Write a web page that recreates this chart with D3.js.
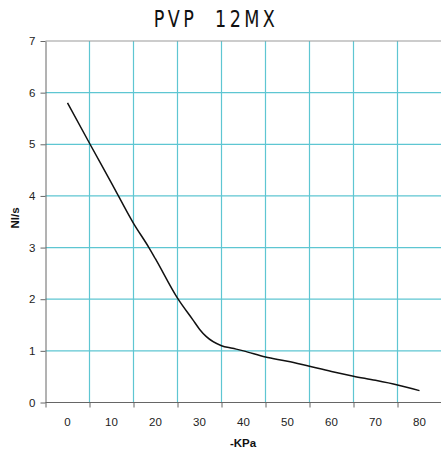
<!DOCTYPE html>
<html><head><meta charset="utf-8">
<script src="https://cdn.jsdelivr.net/npm/d3@7"></script>
<style>body{margin:0;background:#fff}svg{display:block}</style>
</head><body>
<script>
const title = "PVP  12MX";
const kpa = [0, 5, 10, 15, 18.5, 20, 25, 28.5, 30, 31.5, 35, 37.5, 40, 45, 50, 55, 60, 65, 70, 75, 80];
const flow = [5.8, 5.02, 4.25, 3.47, 3.0, 2.78, 2.02, 1.6, 1.42, 1.28, 1.1, 1.05, 1.0, 0.88, 0.8, 0.7, 0.6, 0.51, 0.43, 0.34, 0.23];
const xTickLabels = [0, 10, 20, 30, 40, 50, 60, 70, 80];
const xGrid = [5, 15, 25, 35, 45, 55, 65, 75];
const yTicks = [0, 1, 2, 3, 4, 5, 6, 7];

const W = 441, H = 452;
const svg = d3.select("body").append("svg").attr("width", W).attr("height", H);
const x = d3.scaleLinear().domain([-5, 85]).range([45.5, 441.5]);
const y = d3.scaleLinear().domain([0, 7]).range([402.5, 41]);
const grid = "#5ec6d2", axisC = "#666";

// gridlines
svg.append("g").selectAll("line").data(yTicks.filter(d => d > 0 && d < 7)).join("line")
  .attr("x1", x(-5)).attr("x2", W).attr("y1", d => y(d)).attr("y2", d => y(d))
  .attr("stroke", grid).attr("stroke-width", 1.2);
svg.append("g").selectAll("line").data(xGrid).join("line")
  .attr("x1", d => x(d)).attr("x2", d => x(d)).attr("y1", y(7)).attr("y2", y(0))
  .attr("stroke", grid).attr("stroke-width", 1.2);
// top border
svg.append("line").attr("x1", x(-5)).attr("x2", W).attr("y1", y(7)).attr("y2", y(7)).attr("stroke", "#999");

// y axis
const yAxis = svg.append("g").attr("transform", `translate(${x(-5)},0)`)
  .call(d3.axisLeft(y).tickValues(yTicks).tickFormat(d3.format("d")).tickSize(5).tickPadding(5).tickSizeOuter(0));
yAxis.select(".domain").attr("stroke", axisC);
yAxis.selectAll(".tick line").attr("stroke", axisC);
yAxis.selectAll("text").attr("font-family", "Liberation Sans, Arial, sans-serif").attr("font-size", 11.5).attr("fill", "#222");

// x axis: ticks at gridlines, labels at category centers
const xAxis = svg.append("g").attr("transform", `translate(0,${y(0)})`)
  .call(d3.axisBottom(x).tickValues([-5].concat(xGrid)).tickSize(5).tickFormat("").tickSizeOuter(0));
xAxis.select(".domain").attr("d", `M${x(-5)},0H${W}`).attr("stroke", axisC);
xAxis.selectAll(".tick line").attr("stroke", axisC);
svg.append("g").selectAll("text").data(xTickLabels).join("text")
  .attr("x", d => x(d)).attr("y", 426).attr("text-anchor", "middle")
  .attr("font-family", "Liberation Sans, Arial, sans-serif").attr("font-size", 11.5).attr("fill", "#222")
  .text(d => d);

// line
svg.append("path").datum(kpa.map((k, i) => [k, flow[i]]))
  .attr("d", d3.line().x(d => x(d[0])).y(d => y(d[1])).curve(d3.curveMonotoneX))
  .attr("fill", "none").attr("stroke", "#111").attr("stroke-width", 1.5);

// title (horizontally condensed)
svg.append("text").attr("transform", "translate(216,27) scale(0.85,1)").attr("text-anchor", "middle")
  .attr("font-family", "Liberation Sans Narrow, DejaVu Sans Condensed, sans-serif")
  .attr("font-size", 23).attr("letter-spacing", 4).attr("fill", "#111")
  .style("white-space", "pre")
  .text(title);

// axis titles
svg.append("text").attr("x", 243).attr("y", 447).attr("text-anchor", "middle")
  .attr("font-family", "Liberation Sans, Arial, sans-serif").attr("font-size", 11.5).attr("font-weight", "bold")
  .attr("fill", "#111").text("-KPa");
svg.append("text").attr("transform", "translate(19,218) rotate(-90)").attr("text-anchor", "middle")
  .attr("font-family", "Liberation Sans, Arial, sans-serif").attr("font-size", 11.5).attr("font-weight", "bold")
  .attr("fill", "#111").text("Nl/s");
</script>
</body></html>
